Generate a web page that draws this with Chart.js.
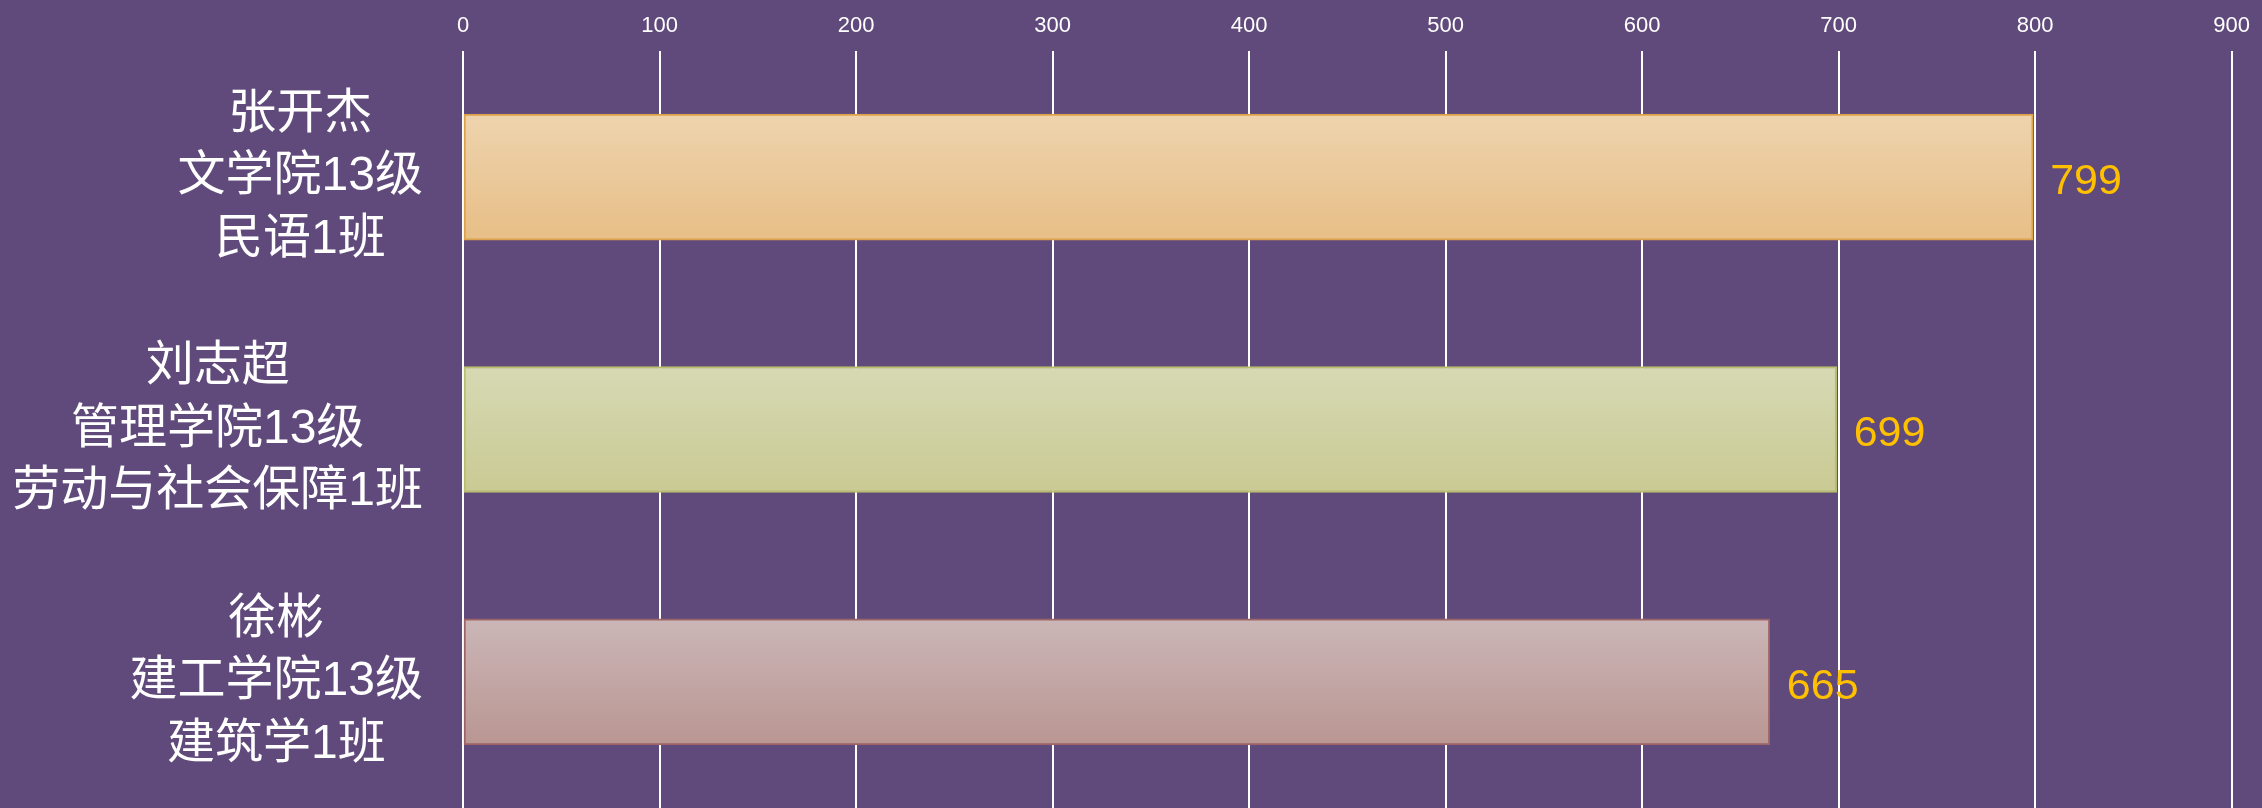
<!DOCTYPE html>
<html><head><meta charset="utf-8">
<script src="https://cdn.jsdelivr.net/npm/chart.js@4.4.0/dist/chart.umd.min.js"></script>
<style>html,body{margin:0;padding:0;background:#604A7B;overflow:hidden}#wrap{width:2262px;height:808px}</style>
</head><body><div id="wrap"><canvas id="c" width="2262" height="808"></canvas></div>
<script>
const categories = [
  ["张开杰", "文学院13级", "民语1班"],
  ["刘志超", "管理学院13级", "劳动与社会保障1班"],
  ["徐彬", "建工学院13级", "建筑学1班"]
];
const values = [799, 699, 665];
const tickMin = 0, tickMax = 900, tickStep = 100;
const topColors = ["#EED4AE", "#D7D9B4", "#CBB6B7"];
const bottomColors = ["#E7BE86", "#C9CA93", "#B99692"];
const borderColors = ["#DCA14B", "#B9BE6E", "#9C6367"];

const BAR_T = 126;

function gradientFor(ctx) {
  const chart = ctx.chart;
  const ys = chart.scales.y;
  const i = ctx.dataIndex;
  if (!ys || !chart.chartArea) return topColors[i];
  const cy = ys.getPixelForValue(i);
  const g = chart.ctx.createLinearGradient(0, cy - BAR_T / 2, 0, cy + BAR_T / 2);
  g.addColorStop(0, topColors[i]);
  g.addColorStop(1, bottomColors[i]);
  return g;
}

const catLabels = {
  id: 'catLabels',
  afterDraw(chart) {
    const ctx = chart.ctx, ys = chart.scales.y;
    ctx.save();
    ctx.font = '48px "Liberation Sans", "Noto Sans CJK SC", sans-serif';
    ctx.fillStyle = '#FFFFFF';
    ctx.textAlign = 'center';
    ctx.textBaseline = 'middle';
    const right = chart.chartArea.left - 40;
    ys.getLabels().forEach((lines, i) => {
      const cy = ys.getPixelForValue(i);
      const w = Math.max(...lines.map(l => ctx.measureText(l).width));
      const cx = right - w / 2;
      lines.forEach((l, j) => ctx.fillText(l, cx, cy + (j - (lines.length - 1) / 2) * 62.5));
    });
    ctx.restore();
  }
};

const valueLabels = {
  id: 'valueLabels',
  afterDatasetsDraw(chart) {
    const ctx = chart.ctx;
    const meta = chart.getDatasetMeta(0);
    const data = chart.data.datasets[0].data;
    ctx.save();
    ctx.font = '43px "Liberation Sans", sans-serif';
    ctx.fillStyle = '#FFC000';
    ctx.textAlign = 'left';
    ctx.textBaseline = 'middle';
    meta.data.forEach((bar, i) => {
      ctx.fillText(String(data[i]), bar.x + 17, bar.y + 5);
    });
    ctx.restore();
  }
};

new Chart(document.getElementById('c'), {
  type: 'bar',
  data: {
    labels: categories,
    datasets: [{
      data: values,
      backgroundColor: gradientFor,
      borderColor: borderColors,
      borderWidth: 2,
      borderSkipped: false,
      barThickness: BAR_T
    }]
  },
  options: {
    indexAxis: 'y',
    responsive: false,
    devicePixelRatio: 1,
    animation: false,
    layout: { padding: { left: 0, right: 23, top: 0, bottom: -4 } },
    plugins: { legend: { display: false }, tooltip: { enabled: false } },
    scales: {
      x: {
        position: 'top',
        min: tickMin, max: tickMax,
        ticks: { stepSize: tickStep, color: '#FFFFFF', font: { family: '"Liberation Sans", sans-serif', size: 22 }, padding: 12 },
        grid: { color: '#FFFFFF', lineWidth: 2, drawTicks: false },
        border: { display: false },
        afterFit: s => { s.height = 51; }
      },
      y: {
        ticks: { display: false },
        grid: { display: false },
        border: { display: false },
        afterFit: s => { s.width = 463; }
      }
    }
  },
  plugins: [catLabels, valueLabels]
});
</script></body></html>
